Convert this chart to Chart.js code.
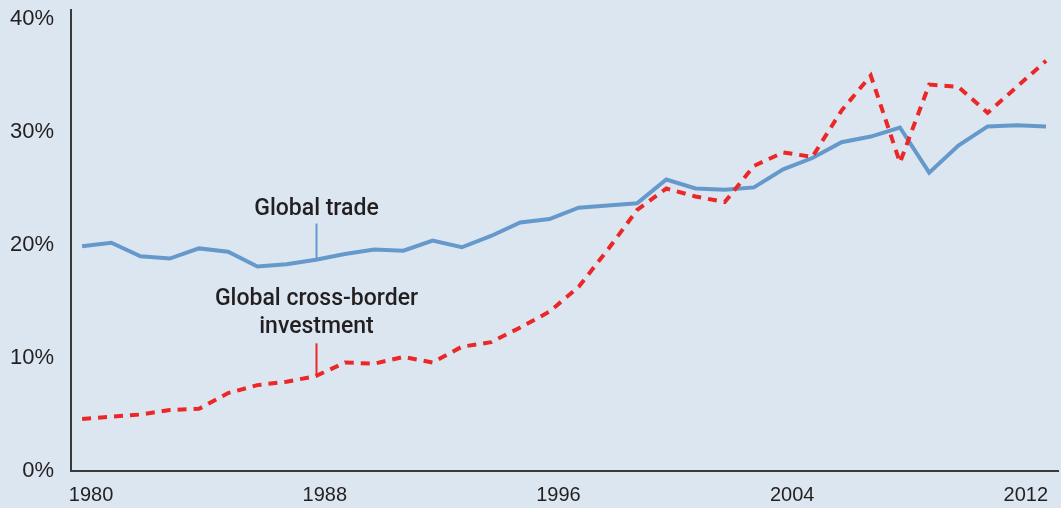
<!DOCTYPE html>
<html>
<head>
<meta charset="utf-8">
<script src="https://cdn.jsdelivr.net/npm/chart.js@4/dist/chart.umd.min.js"></script>
<style>
  html, body { margin: 0; padding: 0; background: #dce6f1; }
  #wrap { width: 1061px; height: 508px; position: relative; }
</style>
</head>
<body>
<div id="wrap"><canvas id="chart"></canvas></div>
<script>
// Years 1980-2013
const years = [1980, 1981, 1982, 1983, 1984, 1985, 1986, 1987, 1988, 1989, 1990, 1991,
    1992, 1993, 1994, 1995, 1996, 1997, 1998, 1999, 2000, 2001, 2002, 2003,
    2004, 2005, 2006, 2007, 2008, 2009, 2010, 2011, 2012, 2013];

// Global trade, % (solid blue)
const tradeValues = [19.9, 20.2, 19.0, 18.8, 19.7, 19.4, 18.1, 18.3, 18.7, 19.2, 19.6, 19.5,
    20.4, 19.8, 20.8, 22.0, 22.3, 23.3, 23.5, 23.7, 25.8, 25.0, 24.9, 25.1,
    26.7, 27.7, 29.1, 29.6, 30.4, 26.4, 28.8, 30.5, 30.6, 30.5];

// Global cross-border investment, % (dashed red)
const investmentValues = [4.6, 4.8, 5.0, 5.4, 5.5, 6.9, 7.6, 7.9, 8.4, 9.6, 9.5, 10.1,
    9.6, 11.0, 11.4, 12.7, 14.1, 16.3, 19.6, 23.1, 25.0, 24.3, 23.8, 27.0,
    28.2, 27.8, 31.9, 35.0, 27.3, 34.2, 34.0, 31.7, 34.0, 36.3];

const yTicks = [0, 10, 20, 30, 40];
const xTicks = [1980, 1988, 1996, 2004, 2012];

const textColor = '#231f20';
const tradeColor = '#6699cb';
const investColor = '#ec2727';

// callout labels, anchored in data units
const callouts = [
    { lines: ['Global trade'], x: 1988, textY: [23.2], lineFrom: 21.9, lineTo: 18.7, color: tradeColor },
    { lines: ['Global cross-border', 'investment'], x: 1988, textY: [15.2, 12.7], lineFrom: 11.3, lineTo: 8.4, color: investColor }
];

const calloutPlugin = {
    id: 'callouts',
    afterDatasetsDraw(chart) {
        const { ctx, scales: { x, y } } = chart;
        ctx.save();
        callouts.forEach(c => {
            const px = Math.round(x.getPixelForValue(c.x)) + 0.5;
            ctx.strokeStyle = c.color;
            ctx.lineWidth = 2;
            ctx.beginPath();
            ctx.moveTo(px, y.getPixelForValue(c.lineFrom));
            ctx.lineTo(px, y.getPixelForValue(c.lineTo));
            ctx.stroke();

            ctx.fillStyle = textColor;
            ctx.font = '500 23px Roboto, "Liberation Sans", sans-serif';
            ctx.textAlign = 'center';
            ctx.textBaseline = 'middle';
            c.lines.forEach((t, i) => {
                ctx.fillText(t, px, y.getPixelForValue(c.textY[i]));
            });
        });
        ctx.restore();
    }
};

const toPoints = vals => vals.map((v, i) => ({ x: years[i], y: v }));

new Chart(document.getElementById('chart'), {
    type: 'line',
    data: {
        datasets: [
            {
                label: 'Global cross-border investment',
                data: toPoints(investmentValues),
                borderColor: investColor,
                borderWidth: 4,
                borderDash: [9, 7],
                borderCapStyle: 'butt',
                pointRadius: 0,
                tension: 0
            },
            {
                label: 'Global trade',
                data: toPoints(tradeValues),
                borderColor: tradeColor,
                borderWidth: 4,
                pointRadius: 0,
                tension: 0
            }
        ]
    },
    options: {
        responsive: true,
        maintainAspectRatio: false,
        animation: false,
        layout: { padding: { top: 10, right: 3, left: 0, bottom: 0 } },
        plugins: {
            legend: { display: false },
            tooltip: { enabled: false }
        },
        scales: {
            x: {
                type: 'linear',
                min: 1979.62,
                max: 2013.41,
                afterBuildTicks: scale => { scale.ticks = xTicks.map(v => ({ value: v })); },
                afterFit: scale => { scale.height = 37; },
                grid: { display: true, drawOnChartArea: false, drawTicks: true, tickLength: 14, color: 'rgba(0,0,0,0)' },
                border: { display: true, color: '#3a3a3a', width: 2 },
                ticks: {
                    color: textColor,
                    font: { family: '"Liberation Sans", Arial, sans-serif', size: 20, lineHeight: 1 },
                    padding: 0,
                    labelOffset: 9,
                    maxRotation: 0,
                    callback: v => String(v)
                }
            },
            y: {
                min: 0,
                max: 40.8,
                afterBuildTicks: scale => { scale.ticks = yTicks.map(v => ({ value: v })); },
                afterFit: scale => { scale.width = 71; },
                grid: { display: true, drawOnChartArea: false, drawTicks: true, tickLength: 17, color: 'rgba(0,0,0,0)' },
                border: { display: true, color: '#3a3a3a', width: 2 },
                ticks: {
                    color: textColor,
                    font: { family: '"Liberation Sans", Arial, sans-serif', size: 22, lineHeight: 0.8 },
                    padding: 0,
                    callback: v => v + '%'
                }
            }
        }
    },
    plugins: [calloutPlugin]
});
</script>
</body>
</html>
